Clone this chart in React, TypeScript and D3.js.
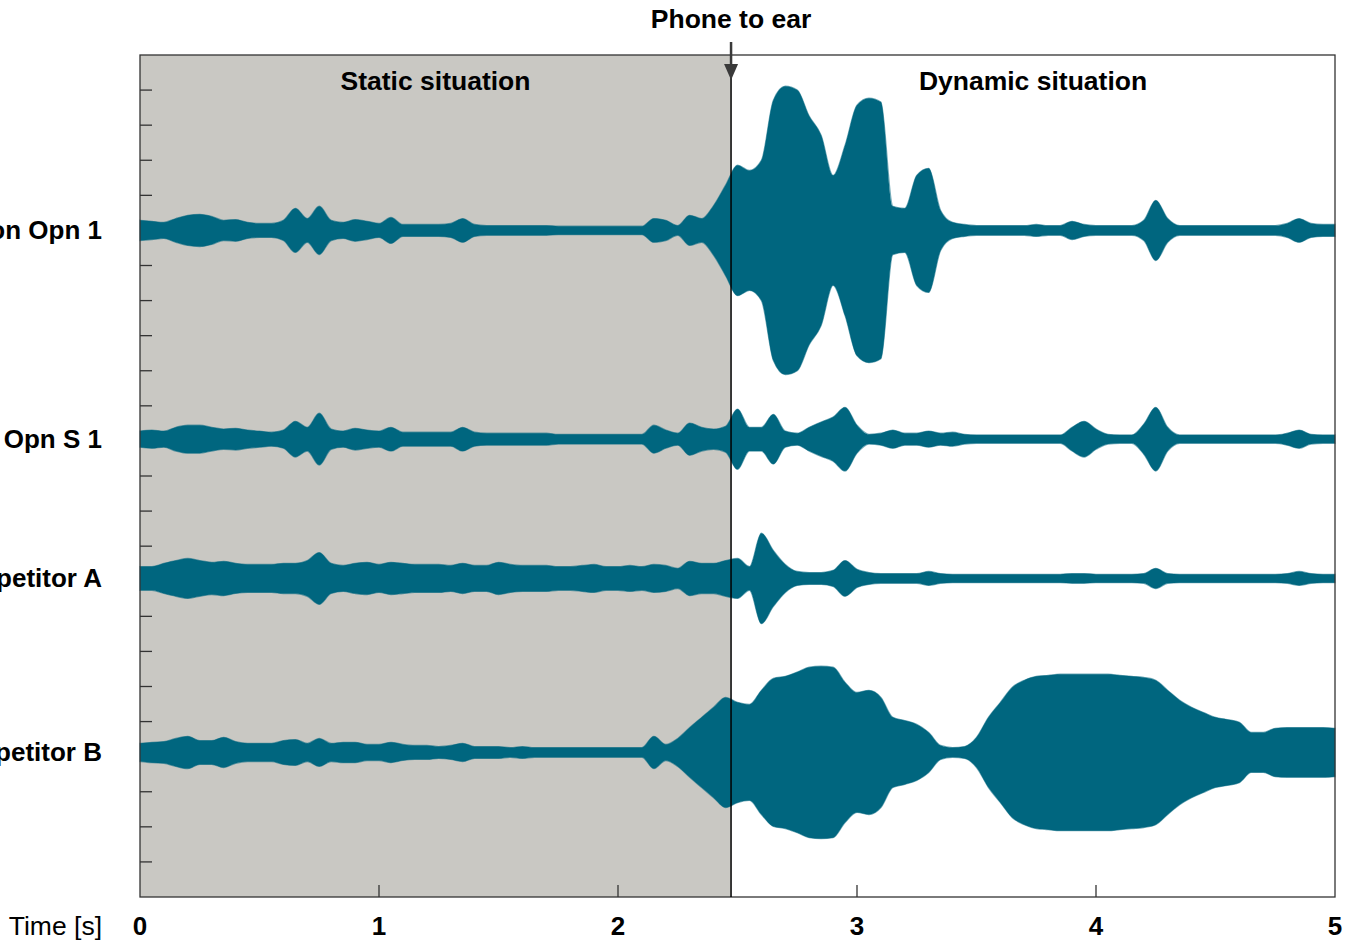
import React from "react";
import * as d3 from "d3";

// ---- data ----
const timeTicks = [0, 1, 2, 3, 4, 5];
const phoneToEarTime = 2.473;
const sampleStep = 0.05; // s, envelope sampling
const trackLabels = ["Smartphone generation Opn 1", "Smartphone Opn S 1", "Competitor A", "Competitor B"];
const trackCenters = [19.0, 13.05, 9.08, 4.12]; // in axis divisions
// envelope half-amplitude (axis divisions), sampled every 0.05 s from 0 to 5 s
const ampOpn1 = [
  0.29, 0.26, 0.23, 0.34, 0.43, 0.46, 0.40, 0.29, 0.31, 0.23,
  0.20, 0.20, 0.29, 0.63, 0.34, 0.69, 0.29, 0.23, 0.31, 0.26,
  0.20, 0.37, 0.17, 0.17, 0.17, 0.17, 0.20, 0.34, 0.17, 0.14,
  0.14, 0.14, 0.14, 0.14, 0.14, 0.12, 0.12, 0.12, 0.12, 0.12,
  0.12, 0.12, 0.12, 0.34, 0.29, 0.14, 0.43, 0.34, 0.71, 1.29,
  1.86, 1.71, 2.00, 3.71, 4.11, 4.00, 3.26, 2.71, 1.57, 2.43,
  3.57, 3.77, 3.66, 0.69, 0.63, 1.57, 1.77, 0.57, 0.23, 0.17,
  0.14, 0.14, 0.14, 0.14, 0.14, 0.17, 0.14, 0.14, 0.26, 0.17,
  0.14, 0.14, 0.14, 0.14, 0.29, 0.86, 0.34, 0.14, 0.14, 0.14,
  0.14, 0.14, 0.14, 0.14, 0.14, 0.14, 0.20, 0.34, 0.20, 0.17,
  0.17,
];
const ampOpnS1 = [
  0.23, 0.26, 0.23, 0.34, 0.40, 0.40, 0.34, 0.29, 0.31, 0.26,
  0.23, 0.20, 0.26, 0.51, 0.34, 0.74, 0.29, 0.23, 0.31, 0.26,
  0.23, 0.34, 0.20, 0.20, 0.20, 0.20, 0.20, 0.34, 0.20, 0.17,
  0.17, 0.17, 0.17, 0.17, 0.17, 0.14, 0.14, 0.14, 0.14, 0.14,
  0.14, 0.14, 0.14, 0.40, 0.26, 0.17, 0.46, 0.34, 0.29, 0.37,
  0.86, 0.34, 0.34, 0.71, 0.23, 0.17, 0.34, 0.49, 0.63, 0.91,
  0.40, 0.14, 0.17, 0.26, 0.17, 0.17, 0.23, 0.17, 0.20, 0.14,
  0.12, 0.12, 0.12, 0.12, 0.12, 0.12, 0.12, 0.12, 0.34, 0.51,
  0.29, 0.14, 0.12, 0.12, 0.43, 0.91, 0.34, 0.12, 0.12, 0.12,
  0.12, 0.12, 0.12, 0.12, 0.12, 0.12, 0.17, 0.26, 0.14, 0.12,
  0.12,
];
const ampCompA = [
  0.34, 0.34, 0.43, 0.51, 0.57, 0.51, 0.46, 0.49, 0.43, 0.40,
  0.40, 0.40, 0.43, 0.43, 0.51, 0.74, 0.43, 0.37, 0.43, 0.46,
  0.40, 0.46, 0.43, 0.40, 0.40, 0.40, 0.37, 0.43, 0.37, 0.37,
  0.46, 0.40, 0.37, 0.37, 0.37, 0.34, 0.34, 0.37, 0.40, 0.34,
  0.34, 0.37, 0.34, 0.40, 0.37, 0.29, 0.49, 0.43, 0.43, 0.51,
  0.57, 0.34, 1.29, 0.80, 0.40, 0.20, 0.17, 0.17, 0.23, 0.51,
  0.26, 0.17, 0.14, 0.14, 0.14, 0.14, 0.20, 0.14, 0.12, 0.12,
  0.12, 0.12, 0.12, 0.12, 0.12, 0.12, 0.12, 0.12, 0.14, 0.14,
  0.12, 0.12, 0.12, 0.12, 0.14, 0.29, 0.14, 0.12, 0.12, 0.12,
  0.12, 0.12, 0.12, 0.12, 0.12, 0.12, 0.14, 0.20, 0.14, 0.12,
  0.12,
];
const ampCompB = [
  0.26, 0.29, 0.31, 0.40, 0.46, 0.34, 0.34, 0.43, 0.31, 0.26,
  0.26, 0.26, 0.34, 0.37, 0.26, 0.40, 0.26, 0.29, 0.29, 0.23,
  0.23, 0.29, 0.23, 0.20, 0.20, 0.17, 0.20, 0.26, 0.17, 0.17,
  0.17, 0.14, 0.17, 0.14, 0.14, 0.14, 0.14, 0.14, 0.14, 0.14,
  0.14, 0.14, 0.14, 0.46, 0.23, 0.40, 0.71, 1.00, 1.29, 1.57,
  1.43, 1.37, 1.77, 2.11, 2.17, 2.29, 2.43, 2.46, 2.43, 2.00,
  1.71, 1.77, 1.57, 1.00, 0.91, 0.80, 0.57, 0.20, 0.14, 0.17,
  0.43, 1.00, 1.43, 1.86, 2.06, 2.17, 2.20, 2.23, 2.23, 2.23,
  2.23, 2.23, 2.20, 2.17, 2.14, 2.06, 1.77, 1.49, 1.29, 1.14,
  1.00, 0.94, 0.86, 0.57, 0.57, 0.69, 0.71, 0.71, 0.71, 0.71,
  0.69,
];
const tracks = [ampOpn1, ampOpnS1, ampCompA, ampCompB];

const W = 1347;
const H = 941;
const M = { left: 140, right: 1335, top: 55, bottom: 897 };
const WAVE = "#00667f";
const GREY = "#c9c8c3";
const FONT = "'Liberation Sans', Arial, Helvetica, sans-serif";

export default function App() {
  const x = d3.scaleLinear().domain([0, 5]).range([M.left, M.right]);
  const y = d3.scaleLinear().domain([0, 24]).range([M.bottom, M.top]);
  const yTicks = d3.range(1, 24);
  const xPhone = x(phoneToEarTime);

  const areas = tracks.map((amps, k) => {
    const c = trackCenters[k];
    const gen = d3
      .area<number>()
      .x((_, i) => x(i * sampleStep))
      .y0((a) => y(c - a))
      .y1((a) => y(c + a))
      .curve(d3.curveMonotoneX);
    return gen(amps) || "";
  });

  return (
    <svg
      width={W}
      height={H}
      style={{ position: "absolute", left: 0, top: 0, background: "#fff" }}
      fontFamily={FONT}
    >
      {/* static region shading */}
      <rect x={x(0)} y={M.top} width={xPhone - x(0)} height={M.bottom - M.top} fill={GREY} />

      {/* left ticks */}
      {yTicks.map((v) => (
        <line key={v} x1={M.left} x2={M.left + 12} y1={y(v)} y2={y(v)} stroke="#333" strokeWidth={1.3} />
      ))}
      {/* bottom ticks */}
      {timeTicks.slice(1, -1).map((t) => (
        <line key={t} x1={x(t)} x2={x(t)} y1={M.bottom} y2={M.bottom - 12} stroke="#333" strokeWidth={1.3} />
      ))}

      {/* waveforms */}
      {areas.map((d, k) => (
        <path key={k} d={d} fill={WAVE} stroke={WAVE} strokeOpacity={0.55} strokeWidth={1.2} />
      ))}

      {/* frame */}
      <rect
        x={M.left}
        y={M.top}
        width={M.right - M.left}
        height={M.bottom - M.top}
        fill="none"
        stroke="#333"
        strokeWidth={1.3}
      />

      {/* phone-to-ear line + arrow */}
      <line x1={xPhone} x2={xPhone} y1={M.top} y2={M.bottom} stroke="#000" strokeWidth={1.5} />
      <line x1={xPhone} x2={xPhone} y1={42} y2={66} stroke="#3a3a3a" strokeWidth={2.5} />
      <path d={`M${xPhone - 7},64 L${xPhone + 7},64 L${xPhone},80 Z`} fill="#3a3a3a" />

      {/* texts */}
      <text x={xPhone} y={28} textAnchor="middle" fontWeight="bold" fontSize={26.5}>
        Phone to ear
      </text>
      <text x={(x(0) + xPhone) / 2} y={90} textAnchor="middle" fontWeight="bold" fontSize={26.5}>
        Static situation
      </text>
      <text x={(xPhone + x(5)) / 2} y={90} textAnchor="middle" fontWeight="bold" fontSize={26.5}>
        Dynamic situation
      </text>

      {trackLabels.map((lab, k) => (
        <text key={lab} x={102} y={y(trackCenters[k])} dy="0.34em" textAnchor="end" fontWeight="bold" fontSize={26}>
          {lab}
        </text>
      ))}

      {timeTicks.map((t) => (
        <text key={t} x={x(t)} y={935} textAnchor="middle" fontWeight="bold" fontSize={26}>
          {t}
        </text>
      ))}
      <text x={102} y={935} textAnchor="end" fontSize={26.5}>
        Time [s]
      </text>
    </svg>
  );
}
